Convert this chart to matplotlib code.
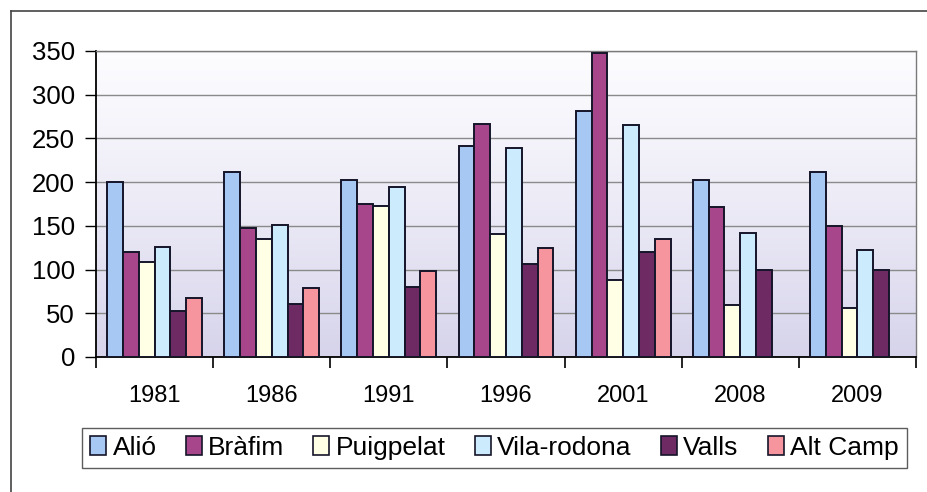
import matplotlib.pyplot as plt
import numpy as np
from matplotlib.patches import Patch
from matplotlib.lines import Line2D

plt.rcParams['font.family'] = ['Liberation Sans', 'DejaVu Sans']

years = ['1981', '1986', '1991', '1996', '2001', '2008', '2009']
series = ['Alió', 'Bràfim', 'Puigpelat', 'Vila-rodona', 'Valls', 'Alt Camp']
alio = [200, 212, 203, 241, 281, 202, 212]
brafim = [120, 147, 175, 266, 348, 172, 150]
puigpelat = [109, 135, 173, 141, 88, 59, 56]
vila_rodona = [126, 151, 194, 239, 265, 142, 122]
valls = [53, 61, 80, 106, 120, 100, 99]
alt_camp = [68, 79, 98, 125, 135, np.nan, np.nan]

values = [alio, brafim, puigpelat, vila_rodona, valls, alt_camp]
colors = ['#A6C8F2', '#A8468C', '#FFFFE6', '#CCEBFC', '#6E2A62', '#F7959E']

fig = plt.figure(figsize=(9.27, 4.92), dpi=100)
fig.patch.set_facecolor('white')
ax = fig.add_axes([96 / 927, 1 - 357 / 492, (916 - 96) / 927, (357 - 51) / 492])

# gradient plot background
grad = np.linspace(0, 1, 256).reshape(-1, 1)
top = np.array([0.99, 0.99, 1.0])
bot = np.array([0.84, 0.83, 0.92])
img = top + (bot - top) * grad[:, :, None] ** 1.2
ax.imshow(img, extent=(-0.5, 6.5, 0, 350), aspect='auto', zorder=0,
          origin='upper')

x = np.arange(len(years))
w = 0.135
for i, (vals, c) in enumerate(zip(values, colors)):
    ax.bar(x + (i - 2.5) * w, vals, w, color=c, edgecolor='#15152a',
           linewidth=1.4, zorder=3)

ax.set_xlim(-0.5, 6.5)
ax.set_ylim(0, 350)
ax.set_yticks(range(0, 351, 50))
ax.yaxis.grid(True, color='#8a8a8a', linewidth=1.0, zorder=1)
ax.set_axisbelow(True)

ax.set_xticks(x)
ax.set_xticklabels(years)
ax.set_xticks(np.arange(-0.5, 7, 1), minor=True)
ax.tick_params(axis='x', which='major', length=0, pad=20, labelsize=17)
ax.tick_params(axis='x', which='minor', length=8, width=1.2, direction='out')
ax.tick_params(axis='y', length=8, width=1.0, labelsize=18.5, pad=7)

for s in ['top', 'right']:
    ax.spines[s].set_color('#7a7a7a')
    ax.spines[s].set_linewidth(1.0)
ax.spines['left'].set_linewidth(1.3)
ax.spines['bottom'].set_linewidth(1.3)

handles = [Patch(facecolor=c, edgecolor='#15152a', linewidth=1.2) for c in colors]
leg = fig.legend(handles, series, ncol=6, loc='center',
                 bbox_to_anchor=(494.5 / 927, 1 - 448 / 492),
                 fontsize=19, frameon=True, fancybox=False,
                 handlelength=0.6, handleheight=0.75, handletextpad=0.25,
                 columnspacing=1.1, borderpad=0.3)
leg.get_frame().set_edgecolor('#333333')
leg.get_frame().set_linewidth(1.0)

# outer chart border (left and top visible)
fig.add_artist(Line2D([11 / 927, 11 / 927], [0, 1 - 10.5 / 492], color='#444444', lw=1.2))
fig.add_artist(Line2D([11 / 927, 1], [1 - 10.5 / 492, 1 - 10.5 / 492], color='#444444', lw=1.2))

fig.savefig('out.png', dpi=100)
